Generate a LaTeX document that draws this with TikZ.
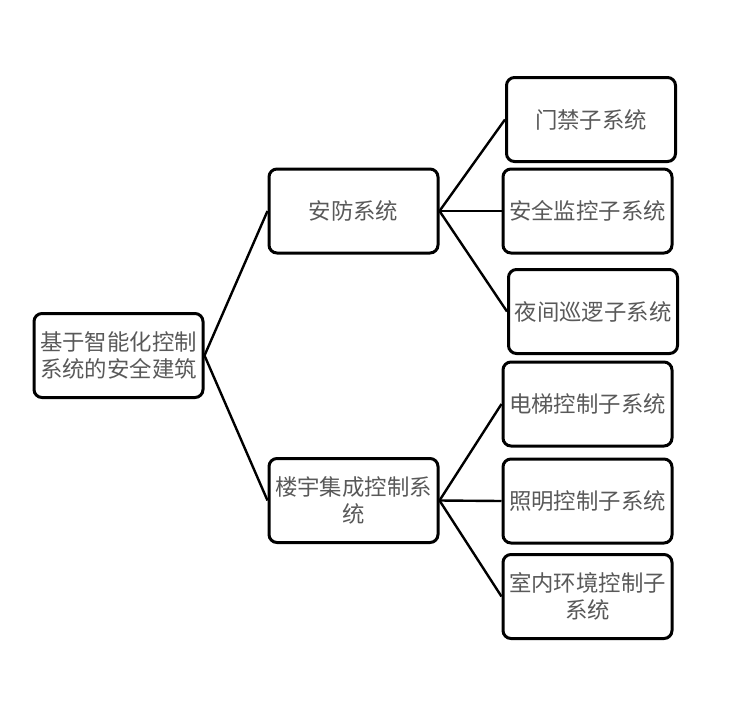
\documentclass[tikz,border=0pt]{standalone}
\usepackage{fontspec}
\setmainfont{Noto Sans CJK SC}
\begin{document}
\begin{tikzpicture}[x=0.5pt,y=-0.5pt,
    box/.style={draw,line width=1.5pt,rounded corners=4pt,minimum width=84.5pt,minimum height=42pt,inner sep=1pt,align=center,text=black!65,font=\fontsize{11.2}{13.5}\selectfont},
    link/.style={line width=1.2pt}]
    \useasboundingbox (0,0) rectangle (740,703);
    \node[box] (root) at (118.5,355.5) {基于智能化控制\\系统的安全建筑};
    \node[box] (anfang) at (353.5,211) {安防系统};
    \node[box] (louyu) at (353.5,500.5) {楼宇集成控制系\\统};
    \node[box] (menjin) at (591,119.5) {门禁子系统};
    \node[box] (jiankong) at (587.5,211) {安全监控子系统};
    \node[box] (xunluo) at (593,311.5) {夜间巡逻子系统};
    \node[box] (dianti) at (587.5,404) {电梯控制子系统};
    \node[box] (zhaoming) at (587.5,501) {照明控制子系统};
    \node[box] (shinei) at (587.5,596.5) {室内环境控制子\\系统};
    \draw[link] (anfang.west)--(root.east)--(louyu.west);
    \draw[link] (menjin.west)--(anfang.east)--(xunluo.west);
    \draw[link] (anfang.east)--(jiankong.west);
    \draw[link] (dianti.west)--(louyu.east)--(shinei.west);
    \draw[link] (louyu.east)--(zhaoming.west);
\end{tikzpicture}
\end{document}
